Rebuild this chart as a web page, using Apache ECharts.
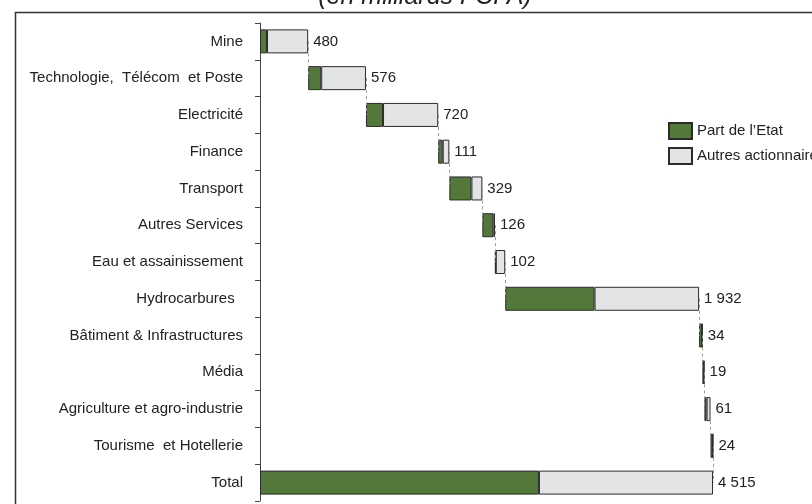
<!DOCTYPE html>
<html>
<head>
<meta charset="utf-8">
<script src="https://cdn.jsdelivr.net/npm/echarts@6/dist/echarts.min.js"></script>
<style>
  html, body { margin: 0; padding: 0; background: #fff; }
  #chart { width: 812px; height: 504px; }
</style>
</head>
<body>
<div id="chart"></div>
<script>
/* secteurs */
var categories = ['Mine', 'Technologie,  Télécom  et Poste', 'Electricité', 'Finance', 'Transport',
    'Autres Services', 'Eau et assainissement', 'Hydrocarbures  ', 'Bâtiment & Infrastructures',
    'Média', 'Agriculture et agro-industrie', 'Tourisme  et Hotellerie', 'Total'];

/* part de l'Etat */
var partEtat = [70, 130, 170, 45, 220, 110, 8, 890, 30, 12, 22, 24, 2780];

/* autres actionnaires */
var autres = [410, 446, 550, 66, 109, 16, 94, 1042, 4, 7, 39, 0, 1735];

/* totaux par secteur */
var totals = [480, 576, 720, 111, 329, 126, 102, 1932, 34, 19, 61, 24, 4515];
var valueLabels = ['480', '576', '720', '111', '329', '126', '102', '1 932', '34', '19', '61', '24', '4 515'];

var FONT = '"Liberation Sans", Arial, sans-serif';

// point de depart de chaque barre (cascade), le total part de 0
var base = [];
var cum = 0;
for (var i = 0; i < totals.length; i++) {
    if (i == totals.length - 1) {
        base.push(0);
    } else {
        base.push(cum);
        cum += totals[i];
    }
}

// traits pointilles entre les barres
var connectors = [];
for (var j = 0; j < categories.length - 1; j++) {
    var x = base[j] + totals[j];
    connectors.push([{ coord: [x, categories[j]] }, { coord: [x, categories[j + 1]] }]);
}

var chart = echarts.init(document.getElementById('chart'), null, { renderer: 'canvas' });
var option = {
    backgroundColor: '#fff',
    animation: false,
    textStyle: { fontFamily: FONT },
    grid: {
        left: 260,
        top: 23,
        width: 501.7,
        height: 478
    },
    legend: {
        data: ["Part de l\u2019Etat", 'Autres actionnaires'],
        orient: 'vertical',
        left: 663,
        top: 117,
        itemWidth: 23,
        itemHeight: 16,
        itemGap: 7,
        icon: 'rect',
        textStyle: { fontSize: 15, color: '#222', fontFamily: FONT }
    },
    graphic: [
        {
            type: 'rect',
            shape: { x: 15.5, y: 12.5, width: 900, height: 600 },
            style: { fill: 'none', stroke: '#333', lineWidth: 1.5 },
            silent: true
        },
        {
            type: 'text',
            x: 425,
            y: 10,
            style: {
                text: '(en milliards FCFA)',
                fontFamily: FONT,
                fontStyle: 'italic',
                fontSize: 25,
                fill: '#222',
                align: 'center',
                verticalAlign: 'bottom'
            },
            silent: true
        }
    ],
    xAxis: {
        type: 'value',
        min: 0,
        max: 5000,
        show: false
    },
    yAxis: {
        type: 'category',
        data: categories,
        inverse: true,
        axisLine: { show: true, lineStyle: { color: '#444', width: 1 } },
        axisTick: { show: true, inside: false, length: 5, lineStyle: { color: '#444', width: 1 } },
        axisLabel: { fontSize: 15, color: '#222', margin: 17, fontFamily: FONT }
    },
    series: [
        {
            name: 'base',
            type: 'bar',
            stack: 'cascade',
            data: base,
            barWidth: 24,
            itemStyle: { color: 'transparent' },
            silent: true,
            z: 1,
            markLine: {
                silent: true,
                symbol: 'none',
                label: { show: false },
                lineStyle: { color: '#9a9a9a', type: [3, 3], width: 1 },
                data: connectors
            }
        },
        {
            name: "Part de l\u2019Etat",
            type: 'bar',
            stack: 'cascade',
            data: partEtat,
            barWidth: 24,
            z: 2,
            itemStyle: { color: '#54783a', borderColor: '#2b2b2b', borderWidth: 1 }
        },
        {
            name: 'Autres actionnaires',
            type: 'bar',
            stack: 'cascade',
            data: autres,
            barWidth: 24,
            z: 2,
            itemStyle: { color: '#e3e4e6', borderColor: '#2b2b2b', borderWidth: 1 },
            label: {
                show: true,
                position: 'right',
                distance: 5,
                fontSize: 15,
                color: '#222',
                fontFamily: FONT,
                formatter: function (p) {
                    return valueLabels[p.dataIndex];
                }
            }
        }
    ]
};
chart.setOption(option, true);
</script>
</body>
</html>
